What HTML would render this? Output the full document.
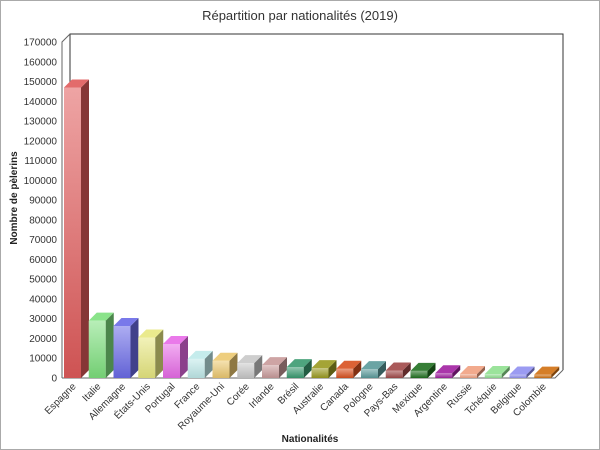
<!DOCTYPE html>
<html><head><meta charset="utf-8"><style>
html,body{margin:0;padding:0;background:#fff}
svg{display:block;font-family:"Liberation Sans",sans-serif}
</style></head><body>
<svg id="chart" width="600" height="450" viewBox="0 0 600 450">
<defs id="defs"></defs>
<rect x="0.5" y="0.5" width="599" height="449" fill="#fff" stroke="#aaa"/>
<text x="300" y="20" text-anchor="middle" font-size="13" fill="#333">Répartition par nationalités (2019)</text>
<text transform="translate(17,198) rotate(-90)" text-anchor="middle" font-size="10" font-weight="bold" fill="#222">Nombre de pèlerins</text>
<text x="310" y="442" text-anchor="middle" font-size="10" font-weight="bold" fill="#222">Nationalités</text>
<g id="plot"></g>
</svg>
<script>
const categories=["Espagne","Italie","Allemagne","États-Unis","Portugal","France","Royaume-Uni","Corée","Irlande","Brésil","Australie","Canada","Pologne","Pays-Bas","Mexique","Argentine","Russie","Tchéquie","Belgique","Colombie"];
const values=[147000,29000,26300,20500,17200,9700,8700,7500,6500,5500,5000,4700,4500,3800,3600,2400,2000,2000,1800,1700];
const colors=["#e05a5a","#7de07d","#6a6ae8","#e8e880","#e86ae8","#bfeaea","#ecc870","#c8c8c8","#c89a9a","#3a9a70","#9a9a20","#d8501e","#5a9a9a","#a04848","#207020","#a020a0","#f0a080","#90e090","#9090f0","#d07010"];
const yTicks=[0,10000,20000,30000,40000,50000,60000,70000,80000,90000,100000,110000,120000,130000,140000,150000,160000,170000];
const NS="http://www.w3.org/2000/svg";
const x0=62,step=24.75,bw=17,dx=8,dy=8,yBase=378,yTop=42,vMax=170000;
const y=v=>yBase-(v/vMax)*(yBase-yTop);
const xc=i=>x0+2+i*step;
const plot=document.getElementById('plot'),defs=document.getElementById('defs');
function el(t,a,p){const e=document.createElementNS(NS,t);for(const k in a)e.setAttribute(k,a[k]);(p||plot).appendChild(e);return e;}
function shade(c,f){const n=parseInt(c.slice(1),16);let r=n>>16,g=(n>>8)&255,b=n&255;const m=v=>Math.max(0,Math.min(255,Math.round(f>1?v+(255-v)*(f-1):v*f)));return `rgb(${m(r)},${m(g)},${m(b)})`;}
// walls
const wall=el('path',{d:`M${x0} ${yBase} L${x0} ${yTop} L${x0+dx} ${yTop-dy} L${563} ${yTop-dy} L563 ${yBase-dy} L555 ${yBase} Z`,fill:'#fff',stroke:'none'});


const bw2=el('path',{d:`M${x0+dx} ${yBase-dy} L${x0+dx} ${yTop-dy} L563 ${yTop-dy} L563 ${yBase-dy}`,fill:'none',stroke:'#333','stroke-width':1});


const ax=el('path',{d:`M${x0} ${yBase} L${x0} ${yTop} L${x0+dx} ${yTop-dy} M${x0} ${yBase} L555 ${yBase} L563 ${yBase-dy}`,fill:'none',stroke:'#666','stroke-width':1});


yTicks.forEach(t=>{
  const tx=el('text',{x:x0-5,y:y(t)+3.5,'text-anchor':'end','font-size':10,fill:'#333'});
  tx.textContent=t;
  
  
});
values.forEach((v,i)=>{
  const c=colors[i],L=xc(i),T=y(v);
  const g=document.createElementNS(NS,'linearGradient');g.setAttribute('id','g'+i);g.setAttribute('x1','0');g.setAttribute('y1','0');g.setAttribute('x2','0');g.setAttribute('y2','1');
  const s1=document.createElementNS(NS,'stop');s1.setAttribute('offset','0');s1.setAttribute('stop-color',shade(c,1.45));g.appendChild(s1);
  const s2=document.createElementNS(NS,'stop');s2.setAttribute('offset','1');s2.setAttribute('stop-color',shade(c,0.92));g.appendChild(s2);
  defs.appendChild(g);
  const grp=el('g',{});
  
  
  el('rect',{x:L,y:T,width:bw,height:yBase-T,fill:`url(#g${i})`},grp);
  el('path',{d:`M${L+bw} ${T} L${L+bw+dx} ${T-dy} L${L+bw+dx} ${yBase-dy} L${L+bw} ${yBase} Z`,fill:shade(c,0.6)},grp);
  el('path',{d:`M${L} ${T} L${L+dx} ${T-dy} L${L+bw+dx} ${T-dy} L${L+bw} ${T} Z`,fill:shade(c,1.1)},grp);
  const lx=L+bw/2+4,ly=yBase+9;
  const tx=el('text',{x:lx,y:ly,transform:`rotate(-45 ${lx} ${ly})`,'text-anchor':'end','font-size':10,fill:'#333'});
  tx.textContent=categories[i];
  
  
});
</script>
</body></html>
